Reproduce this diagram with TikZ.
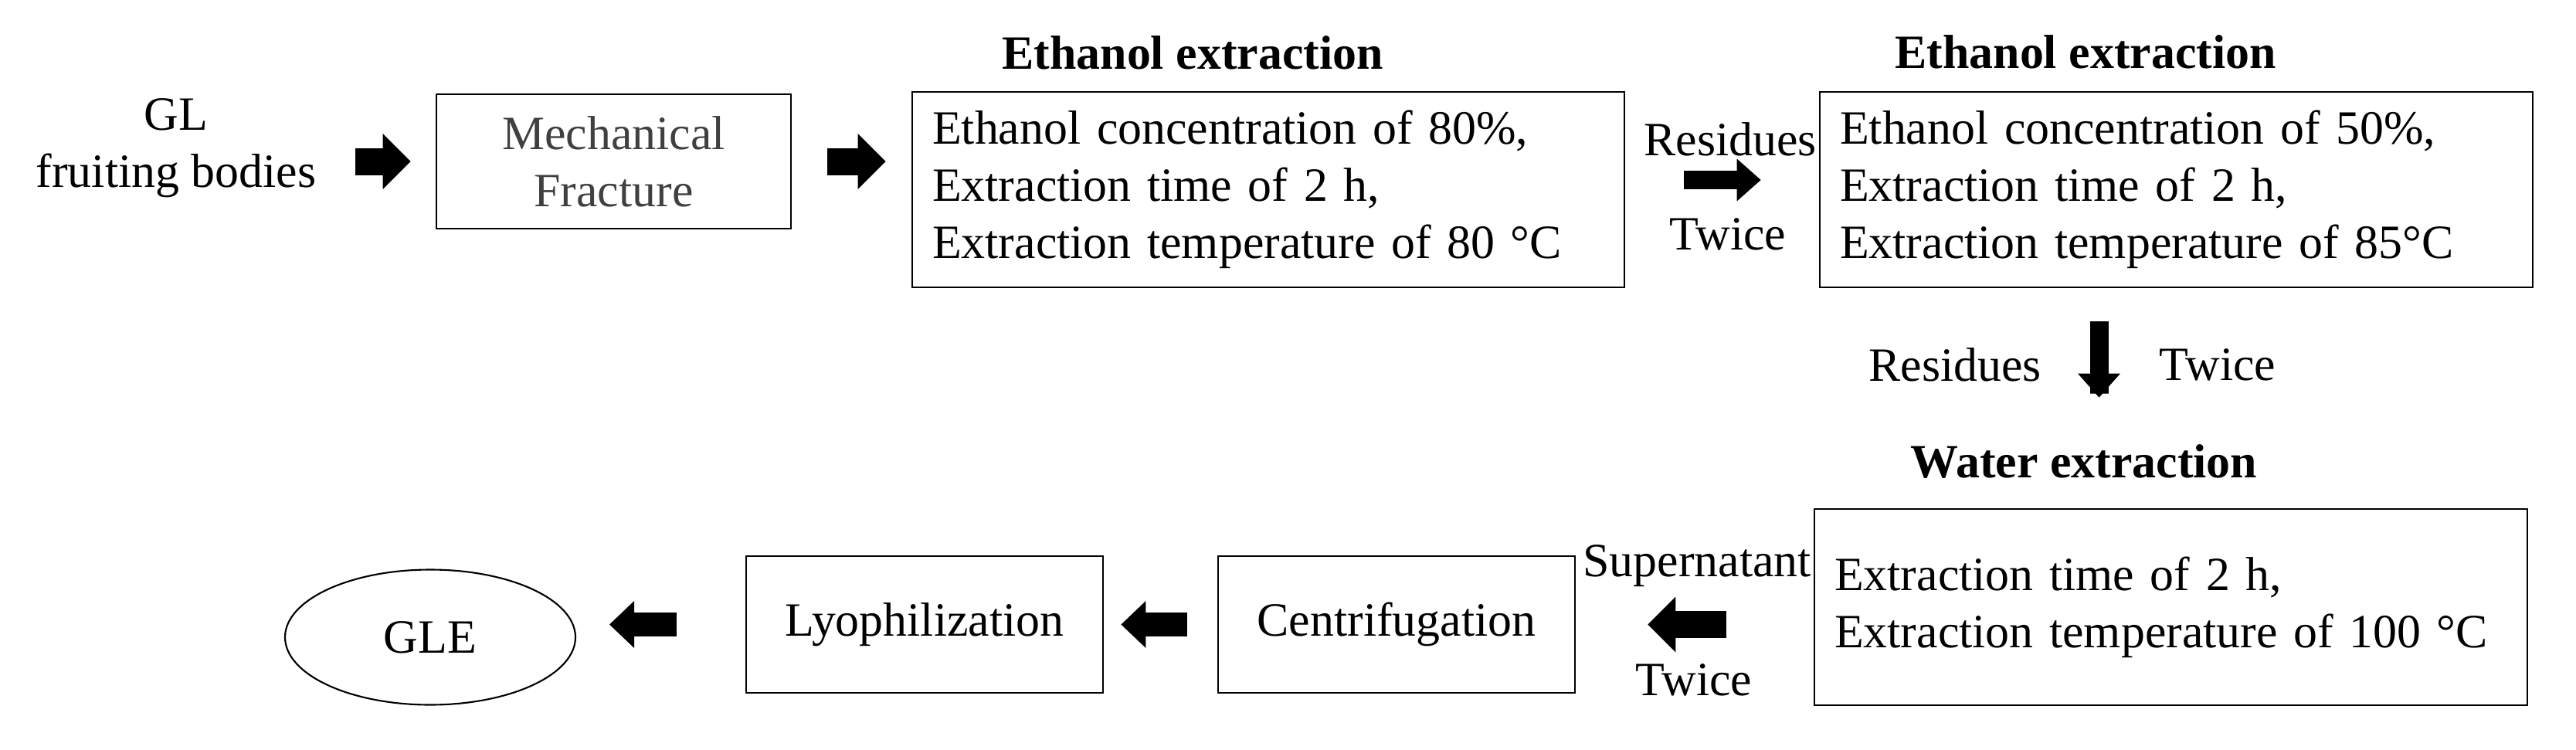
\documentclass[tikz,border=0pt]{standalone}
\usepackage{fontspec}
\setmainfont{Liberation Serif}
\newfontfamily\flowfont{Liberation Serif}
\usetikzlibrary{arrows.meta,shapes.geometric}
\begin{document}
\begin{tikzpicture}[font=\flowfont\fontsize{17.6}{21}\selectfont]
%% one unit is 1cm, the origin is the top left corner of the figure
%% the arrows float between the boxes, so they are shortened at both ends
\tikzstyle{procBox}=[draw,line width=0.8pt,inner sep=0pt,align=center,minimum width=4.62cm,minimum height=1.77cm]
\tikzstyle{condBox}=[draw,line width=0.8pt,inner ysep=0pt,inner xsep=0.26cm,align=left,text width=8.7cm,minimum height=2.53cm]
\tikzstyle{endEllipse}=[draw,ellipse,line width=0.6pt,inner sep=0pt,minimum width=3.76cm,minimum height=1.75cm]
\tikzstyle{stepLabel}=[inner sep=0pt,align=center]
\tikzstyle{stepTitle}=[inner sep=0pt,font=\flowfont\fontsize{17.6}{21}\selectfont\bfseries]
\tikzstyle{bigArrow}=[line width=3.5mm,-{Triangle[length=3.6mm,width=7.2mm,line width=0pt]}]
\tikzstyle{midArrow}=[line width=3.1mm,-{Triangle[length=3.2mm,width=6.1mm,line width=0pt]}]
\tikzstyle{smallArrow}=[line width=2.4mm,-{Triangle[length=3.1mm,width=5.5mm,line width=0pt]}]
\useasboundingbox (0,0) rectangle (33.35,-9.70);
%% first row %%
\node[stepLabel] at (2.28,-1.92) (GL) {GL\\fruiting bodies};
\node[procBox, minimum width=4.59cm, minimum height=1.74cm, text=black!75] at (7.945,-2.09) (Mechanical) {Mechanical\\Fracture};
%% ethanol extraction, 80%
\node[stepTitle] at (15.44,-0.68) (Title80) {Ethanol extraction};
\node[condBox] at (16.42,-2.455) (Ethanol80) {Ethanol concentration of 80\%,\\Extraction time of 2 h,\\Extraction temperature of 80 °C};
\node[stepLabel] at (22.40,-1.80) (Residues1) {Residues};
\node[stepLabel] at (22.37,-3.03) (Twice1) {Twice};
%% ethanol extraction, 50%
\node[stepTitle] at (27.00,-0.67) (Title50) {Ethanol extraction};
\node[condBox, text width=8.71cm] at (28.175,-2.455) (Ethanol50) {Ethanol concentration of 50\%,\\Extraction time of 2 h,\\Extraction temperature of 85°C};
\node[stepLabel] at (25.31,-4.72) (Residues2) {Residues};
\node[stepLabel] at (28.71,-4.72) (Twice2) {Twice};
%% second row %%
\node[stepTitle] at (26.98,-5.97) (TitleWater) {Water extraction};
\node[condBox, text width=8.71cm, minimum height=2.54cm] at (28.105,-7.86) (Water) {Extraction time of 2 h,\\Extraction temperature of 100 °C};
\node[stepLabel] at (21.97,-7.33) (Supernatant) {Supernatant};
\node[stepLabel] at (21.93,-8.80) (Twice3) {Twice};
\node[procBox] at (18.08,-8.085) (Centrifugation) {Centrifugation};
\node[procBox] at (11.97,-8.085) (Lyophilization) {Lyophilization};
\node[endEllipse] at (5.57,-8.25) (GLE) {GLE};
%% arrows %%
\draw[bigArrow, shorten <=0.50cm, shorten >=0.32cm] (GL.east |- Mechanical) to[bend right=0] (Mechanical) {};
\draw[bigArrow, shorten <=0.46cm, shorten >=0.33cm] (Mechanical) to[bend right=0] (Mechanical -| Ethanol80.west) {};
\draw[smallArrow, shorten <=0.76cm, shorten >=0.75cm] ([yshift=1.25mm]Ethanol80.east) to[bend right=0] ([yshift=1.25mm]Ethanol50.west) {};
\draw[smallArrow, shorten <=0.425cm, shorten >=1.43cm] ([xshift=-1cm]Ethanol50.south) to[bend right=0] ([xshift=-1cm]Ethanol50.south |- Water.north) {};
\draw[bigArrow, shorten <=1.13cm, shorten >=0.93cm] (Water.west |- Centrifugation) to[bend right=0] (Centrifugation) {};
\draw[midArrow, shorten <=0.39cm, shorten >=0.22cm] (Centrifugation) to[bend right=0] (Lyophilization) {};
\draw[midArrow, shorten <=0.89cm, shorten >=0.43cm] (Lyophilization) to[bend right=0] (Lyophilization -| GLE.east) {};
\end{tikzpicture}
\end{document}
